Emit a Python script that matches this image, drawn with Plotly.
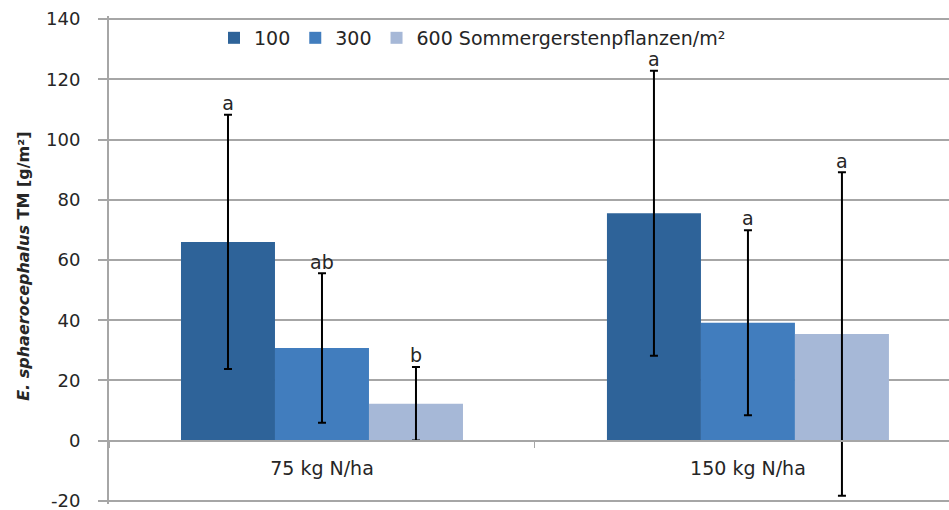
import plotly.graph_objects as go

categories = ["75 kg N/ha", "150 kg N/ha"]
series_names = ["100", "300", "600 Sommergerstenpflanzen/m²"]
means_100 = [66.0, 75.5]
means_300 = [30.8, 39.2]
means_600 = [12.3, 35.4]
err_100 = [42.2, 47.3]
err_300 = [24.8, 30.7]
err_600 = [12.2, 53.7]
letters_100 = ["a", "a"]
letters_300 = ["ab", "a"]
letters_600 = ["b", "a"]
y_tickvals = [-20, 0, 20, 40, 60, 80, 100, 120, 140]
y_ticktext = ["-20", "0", "20", "40", "60", "80", "100", "120", "140"]
y_title = "<b><i>E. sphaerocephalus</i> TM [g/m²]</b>"

colors = ["#2E6399", "#417DBE", "#A6B8D7"]
FONT = "DejaVu Sans"
TXT = "#262626"
GRID = "#A6A6A6"
YMIN, YMAX = -21.0, 141.0

fig = go.Figure()
series = [
    (series_names[0], means_100, err_100, letters_100),
    (series_names[1], means_300, err_300, letters_300),
    (series_names[2], means_600, err_600, letters_600),
]
for (name, m, e, _), c in zip(series, colors):
    fig.add_trace(go.Bar(
        x=categories, y=m, name=name, marker=dict(color=c, line=dict(width=0)),
        error_y=dict(type="data", array=e, visible=True, color="black", thickness=2, width=4),
    ))
for (name, m, e, lt), c in zip(series, colors):
    fig.add_trace(go.Scatter(
        x=categories, y=[a + b for a, b in zip(m, e)], text=lt, mode="text",
        textposition="top center", showlegend=False, hoverinfo="skip",
        textfont=dict(family=FONT, size=19, color=TXT),
    ))

fig.update_layout(
    width=949, height=510,
    margin=dict(l=109, r=0, t=16, b=6),
    paper_bgcolor="white", plot_bgcolor="white",
    barmode="group", bargap=0.338, bargroupgap=0,
    scattermode="group", scattergap=0.338,
    font=dict(family=FONT, size=18, color=TXT),
    legend=dict(orientation="h", x=0.125, y=0.955, xanchor="left", yanchor="middle",
                font=dict(family=FONT, size=19, color=TXT), bgcolor="rgba(0,0,0,0)",
                traceorder="normal"),
    showlegend=True,
)
fig.update_xaxes(
    type="category", range=[-0.5, 1.472],
    anchor="free", position=(0 - YMIN) / (YMAX - YMIN),
    showline=True, linecolor=GRID, linewidth=2,
    ticks="outside", tickson="boundaries", ticklen=6, tickcolor=GRID, tickwidth=1,
    ticklabelstandoff=10, showgrid=False,
    tickfont=dict(family=FONT, size=19, color=TXT),
)
fig.update_yaxes(
    range=[YMIN, YMAX], tickmode="array", tickvals=y_tickvals, ticktext=y_ticktext,
    showgrid=True, gridcolor=GRID, gridwidth=2, zeroline=False,
    showline=True, linecolor=GRID, linewidth=2,
    ticks="outside", ticklen=9, tickcolor=GRID, tickwidth=2,
    ticklabelstandoff=14, ticklabeloverflow="allow",
    tickfont=dict(family=FONT, size=18, color=TXT),
)
fig.add_annotation(
    text=y_title, xref="paper", yref="paper", x=0, y=0.486, xanchor="center", yanchor="middle",
    xshift=-85, textangle=-90, showarrow=False,
    font=dict(family=FONT, size=16, color=TXT),
)

fig.write_html("out.html")
